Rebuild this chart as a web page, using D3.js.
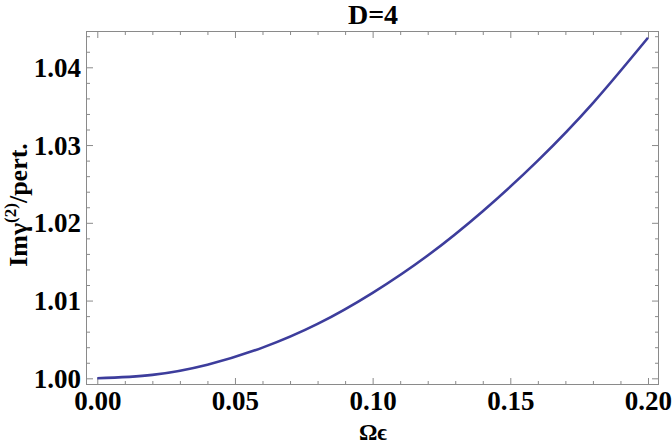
<!DOCTYPE html>
<html><head><meta charset="utf-8">
<script src="https://cdn.jsdelivr.net/npm/d3@7"></script>
<style>
html,body{margin:0;padding:0;background:#fff;}
svg{display:block;}
text{font-family:"Liberation Serif","Times New Roman",serif;font-weight:bold;fill:#000;}
</style></head>
<body>
<script>
// Data
const omegaEps = [0.00, 0.02, 0.04, 0.06, 0.08, 0.10, 0.12, 0.14, 0.16, 0.18, 0.20];
const imGamma  = [1.0000, 1.00044, 1.00175, 1.00395, 1.0070, 1.0110, 1.0158, 1.0215, 1.0280, 1.0354, 1.0438];
const xMajorTicks = [0.00, 0.05, 0.10, 0.15, 0.20];
const yMajorTicks = [1.00, 1.01, 1.02, 1.03, 1.04];
const titleText = "D=4";
const xLabelText = "Ωϵ";

const W = 672, H = 446;
const svg = d3.select("body").append("svg").attr("width", W).attr("height", H);

const x = d3.scaleLinear().domain([-0.0041, 0.2040]).range([86, 659]);
const y = d3.scaleLinear().domain([0.99914, 1.04467]).range([385, 31]);

const frameColor = "#8a8a8a";

// minor ticks
const xMinor = d3.range(0, 0.2041, 0.01).filter(v => !xMajorTicks.some(m => Math.abs(m - v) < 1e-9));
const yMinor = d3.range(0.998, 1.0447, 0.002).filter(v => v >= 0.99914 && !yMajorTicks.some(m => Math.abs(m - v) < 1e-9));

function styleAxis(g){
  g.select(".domain").remove();
  g.selectAll(".tick line").attr("stroke", frameColor).attr("stroke-width", 1);
}

// bottom axis with labels
svg.append("g").attr("transform", `translate(0,385)`)
  .call(d3.axisBottom(x).tickValues(xMajorTicks).tickFormat(d3.format(".2f")).tickSize(-7).tickPadding(6))
  .call(styleAxis)
  .call(g => g.selectAll("text").attr("font-size", 27).attr("font-family", "Liberation Serif").attr("font-weight", "bold").attr("fill", "#000"));
svg.append("g").attr("transform", `translate(0,385)`)
  .call(d3.axisBottom(x).tickValues(xMinor).tickFormat("").tickSize(-4)).call(styleAxis);
// top axis
svg.append("g").attr("transform", `translate(0,31)`)
  .call(d3.axisTop(x).tickValues(xMajorTicks).tickFormat("").tickSize(-7)).call(styleAxis);
svg.append("g").attr("transform", `translate(0,31)`)
  .call(d3.axisTop(x).tickValues(xMinor).tickFormat("").tickSize(-4)).call(styleAxis);
// left axis with labels
svg.append("g").attr("transform", `translate(86,0)`)
  .call(d3.axisLeft(y).tickValues(yMajorTicks).tickFormat(d3.format(".2f")).tickSize(-7).tickPadding(5))
  .call(styleAxis)
  .call(g => g.selectAll("text").attr("font-size", 27).attr("font-family", "Liberation Serif").attr("font-weight", "bold").attr("fill", "#000").attr("dy", "0.34em"));
svg.append("g").attr("transform", `translate(86,0)`)
  .call(d3.axisLeft(y).tickValues(yMinor).tickFormat("").tickSize(-4)).call(styleAxis);
// right axis
svg.append("g").attr("transform", `translate(659,0)`)
  .call(d3.axisRight(y).tickValues(yMajorTicks).tickFormat("").tickSize(-7)).call(styleAxis);
svg.append("g").attr("transform", `translate(659,0)`)
  .call(d3.axisRight(y).tickValues(yMinor).tickFormat("").tickSize(-4)).call(styleAxis);

// frame
svg.append("rect").attr("x", 86.5).attr("y", 31.5).attr("width", 572).attr("height", 353)
  .attr("fill", "none").attr("stroke", frameColor).attr("stroke-width", 1);

// curve
const pts = omegaEps.map((d, i) => [d, imGamma[i]]);
svg.append("path").datum(pts)
  .attr("fill", "none").attr("stroke", "#3d3d9c").attr("stroke-width", 2.6)
  .attr("d", d3.line().x(d => x(d[0])).y(d => y(d[1])).curve(d3.curveNatural));

// title
svg.append("text").attr("x", 373).attr("y", 24).attr("text-anchor", "middle")
  .attr("font-size", 28).text(titleText);

// x label
svg.append("text").attr("x", 373).attr("y", 440).attr("text-anchor", "middle")
  .attr("font-size", 23).text(xLabelText);

// y label
const yl = svg.append("text").attr("transform", "translate(27,205) rotate(-90)").attr("text-anchor", "middle")
  .attr("font-size", 26);
yl.append("tspan").text("Im");
yl.append("tspan").text("γ");
yl.append("tspan").attr("font-size", 17).attr("dy", -11).text("(2)");
yl.append("tspan").attr("dy", 11).text("/pert.");
</script>
</body></html>
